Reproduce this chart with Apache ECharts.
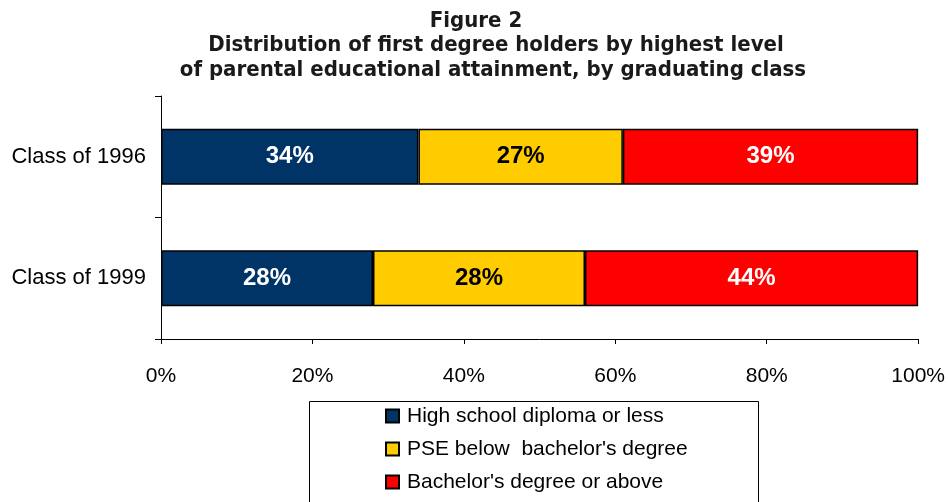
<!DOCTYPE html>
<html>
<head>
<meta charset="utf-8">
<script src="https://cdn.jsdelivr.net/npm/echarts@6/dist/echarts.min.js"></script>
<style>html,body{margin:0;padding:0;background:#fff;}#c{width:948px;height:502px;}</style>
</head>
<body>
<div id="c"></div>
<script>
var categories = ['Class of 1996', 'Class of 1999'];
var seriesNames = ['High school diploma or less', 'PSE below  bachelor\'s degree', 'Bachelor\'s degree or above'];
var highSchool = [34, 28];
var pseBelow = [27, 28];
var bachelorUp = [39, 44];
var xTicks = [0, 20, 40, 60, 80, 100];
var titleLines = ['Figure 2', 'Distribution of first degree holders by highest level', 'of parental educational attainment, by graduating class'];

var chart = echarts.init(document.getElementById('c'), null, {renderer: 'canvas'});
var titleFont = {fontFamily: 'DejaVu Sans Condensed, DejaVu Sans', fontWeight: 'bold', fontSize: 22, color: '#1a1a1a'};
function mkSeries(name, data, color, labelColor) {
  return {
    name: name, type: 'bar', stack: 'total', data: data, barWidth: '46%',
    itemStyle: {color: color, borderColor: '#000', borderWidth: 1.5},
    label: {show: true, position: 'inside', formatter: '{c}%', color: labelColor,
      fontFamily: 'Liberation Sans, Arial', fontWeight: 'bold', fontSize: 24}
  };
}
chart.setOption({
  animation: false,
  backgroundColor: '#fff',
  title: [
    {text: titleLines[0], left: 471, top: 5, textAlign: 'center', textStyle: titleFont},
    {text: titleLines[1], left: 491, top: 29, textAlign: 'center', textStyle: titleFont},
    {text: titleLines[2], left: 488, top: 54, textAlign: 'center', textStyle: titleFont}
  ],
  grid: {left: 161, right: 29, top: 96, bottom: 163, containLabel: false},
  xAxis: {
    type: 'value', min: 0, max: 100, interval: 20,
    axisLine: {show: true, lineStyle: {color: '#000', width: 1}},
    axisTick: {show: true, length: 5, lineStyle: {color: '#000'}},
    splitLine: {show: false},
    axisLabel: {formatter: function (v) { return xTicks.indexOf(v) >= 0 ? v + '%' : ''; }, color: '#000', fontSize: 21, margin: 27,
      fontFamily: 'Liberation Sans, Arial'}
  },
  yAxis: {
    type: 'category', data: categories, inverse: true,
    axisLine: {show: true, lineStyle: {color: '#000', width: 1}},
    axisTick: {show: true, length: 6, lineStyle: {color: '#000'}},
    axisLabel: {color: '#000', fontSize: 22, margin: 15, fontFamily: 'Liberation Sans, Arial'}
  },
  legend: {
    orient: 'vertical', left: 380, top: 400, icon: 'rect',
    itemWidth: 13, itemHeight: 13, itemGap: 11,
    textStyle: {color: '#000', fontSize: 21, lineHeight: 22, fontFamily: 'Liberation Sans, Arial', padding: [0, 0, 0, 3]},
    data: seriesNames
  },
  graphic: [
    {type: 'rect', shape: {x: 309.5, y: 401.5, width: 449, height: 120}, style: {fill: 'none', stroke: '#000', lineWidth: 1}, silent: true}
  ],
  series: [
    mkSeries(seriesNames[0], highSchool, '#003366', '#fff'),
    mkSeries(seriesNames[1], pseBelow, '#FFCC00', '#000'),
    mkSeries(seriesNames[2], bachelorUp, '#FF0000', '#fff')
  ]
});
</script>
</body>
</html>
